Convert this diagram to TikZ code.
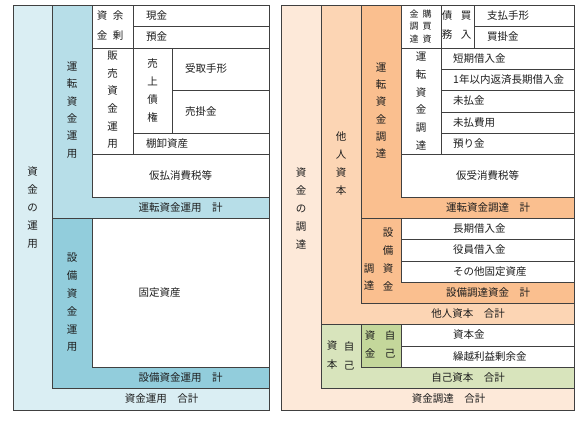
\documentclass[tikz,border=0pt]{standalone}
\usepackage{fontspec}
\setmainfont{Noto Sans CJK JP}
\definecolor{lineC}{RGB}{64,64,64}
\definecolor{txtC}{RGB}{30,30,30}
\definecolor{bOut}{HTML}{DAEEF3}
\definecolor{bMid}{HTML}{B7DEE8}
\definecolor{bDark}{HTML}{92CDDC}
\definecolor{oOut}{HTML}{FDE9D9}
\definecolor{oMid}{HTML}{FCD5B4}
\definecolor{oDark}{HTML}{FABF8F}
\definecolor{gOut}{HTML}{D8E4BC}
\definecolor{gDark}{HTML}{C4D79B}
\tikzset{
  box/.style={draw=lineC, line width=1pt},
  lbl/.style={inner sep=0pt, text=txtC, font=\fontsize{10.5}{12}\selectfont},
  lw/.style={lbl, anchor=west},
  vt/.style={lbl, align=center, font=\fontsize{10.5}{#1}\selectfont},
  vt/.default=18,
  vs/.style={lbl, align=center, font=\fontsize{9}{12.5}\selectfont}
}
\begin{document}
\begin{tikzpicture}[x=1pt,y=-1pt]
\useasboundingbox (0,0) rectangle (588,423);
% ---------- left panel ----------
\filldraw[box, fill=bOut] (13,5) rectangle (269,410);
\filldraw[box, fill=bMid] (52,5) rectangle (269,218);
\filldraw[box, fill=bDark] (52,218) rectangle (269,388);
\filldraw[box, fill=white] (92,5) rectangle (269,197);
\filldraw[box, fill=white] (92,218) rectangle (269,367);
\draw[box] (133,5) -- (133,154);
\draw[box] (133,26) -- (269,26);
\draw[box] (92,48) -- (269,48);
\draw[box] (172,48) -- (172,133);
\draw[box] (172,90) -- (269,90);
\draw[box] (133,133) -- (269,133);
\draw[box] (92,154) -- (269,154);
% texts
\node[vt] (lA) at (32.5,208) {資\\金\\の\\運\\用};
\node[vt=17.3] (lB) at (72,110) {運\\転\\資\\金\\運\\用};
\node[vt=17.8] (lC) at (72,302.5) {設\\備\\資\\金\\運\\用};
\node[vt=20] (lD1) at (102,25.5) {資\\金};
\node[vt=20] (lD2) at (118,25.5) {余\\剰};
\node[vt=17.6] (lE) at (112.5,100) {販\\売\\資\\金\\運\\用};
\node[vt=18] (lF) at (152.5,90.5) {売\\上\\債\\権};
\node[lw] (l1) at (146,15.5) {現金};
\node[lw] (l2) at (146,37) {預金};
\node[lw] (l3) at (185,69) {受取手形};
\node[lw] (l4) at (185,111.5) {売掛金};
\node[lw] (l5) at (146,143.5) {棚卸資産};
\node[lbl] (l6) at (180.5,175.5) {仮払消費税等};
\node[lbl] (l7) at (180.5,207.5) {運転資金運用　計};
\node[lbl] (l8) at (159.5,292.5) {固定資産};
\node[lbl] (l9) at (180.5,377.5) {設備資金運用　計};
\node[lbl] (l10) at (161.5,399) {資金運用　合計};
% ---------- right panel ----------
\filldraw[box, fill=oOut] (281,5) rectangle (574,410);
\filldraw[box, fill=oMid] (321,5) rectangle (574,324);
\filldraw[box, fill=oDark] (361,5) rectangle (574,218);
\filldraw[box, fill=oDark] (361,218) rectangle (574,303);
\filldraw[box, fill=gOut] (321,324) rectangle (574,388);
\filldraw[box, fill=gDark] (361,324) rectangle (574,367);
\filldraw[box, fill=white] (401,5) rectangle (574,197);
\filldraw[box, fill=white] (401,218) rectangle (574,282);
\filldraw[box, fill=white] (401,324) rectangle (574,367);
\draw[box] (441,5) -- (441,154);
\draw[box] (474,5) -- (474,48);
\draw[box] (474,26) -- (574,26);
\draw[box] (401,48) -- (574,48);
\draw[box] (441,69) -- (574,69);
\draw[box] (441,90) -- (574,90);
\draw[box] (441,112) -- (574,112);
\draw[box] (441,133) -- (574,133);
\draw[box] (401,154) -- (574,154);
\draw[box] (401,239) -- (574,239);
\draw[box] (401,261) -- (574,261);
\draw[box] (401,346) -- (574,346);
% texts
\node[vt] (rA) at (301,208) {資\\金\\の\\調\\達};
\node[vt=18] (rB) at (341,164) {他\\人\\資\\本};
\node[vt=17.3] (rC) at (381,110.5) {運\\転\\資\\金\\調\\達};
\node[vs] (rD1) at (414,26.5) {金\\調\\達};
\node[vs] (rD2) at (427,26.5) {購\\買\\資};
\node[vt=19] (rE1) at (447,25) {債\\務};
\node[vt=19] (rE2) at (466,25) {買\\入};
\node[vt=17.7] (rF) at (421,101) {運\\転\\資\\金\\調\\達};
\node[vt=17.7] (rG1) at (388,259.5) {設\\備\\資\\金};
\node[vt=17.7] (rG2) at (369,277) {調\\達};
\node[vt=19] (rH1) at (332,355.5) {資\\本};
\node[vt=19] (rH2) at (349,355.5) {自\\己};
\node[vt=18] (rI1) at (370,344.5) {資\\金};
\node[vt=18] (rI2) at (390,344.5) {自\\己};
\node[lw] (r1) at (487,15.5) {支払手形};
\node[lw] (r2) at (487,37) {買掛金};
\node[lw] (r3) at (453,58.5) {短期借入金};
\node[lw] (r4) at (453,79.5) {1年以内返済長期借入金};
\node[lw] (r5) at (453,101) {未払金};
\node[lw] (r6) at (453,122.5) {未払費用};
\node[lw] (r7) at (453,143.5) {預り金};
\node[lbl] (r8) at (487.5,175.5) {仮受消費税等};
\node[lbl] (r9) at (488,207.5) {運転資金調達　計};
\node[lw] (r10) at (453,228.5) {長期借入金};
\node[lw] (r11) at (453,250) {役員借入金};
\node[lw] (r12) at (453,271.5) {その他固定資産};
\node[lbl] (r13) at (488,292.5) {設備調達資金　計};
\node[lbl] (r14) at (468,313.5) {他人資本　合計};
\node[lw] (r15) at (453,335) {資本金};
\node[lw] (r16) at (453,356.5) {繰越利益剰余金};
\node[lbl] (r17) at (468,377.5) {自己資本　合計};
\node[lbl] (r18) at (448.5,399) {資金調達　合計};
\end{tikzpicture}
\end{document}
